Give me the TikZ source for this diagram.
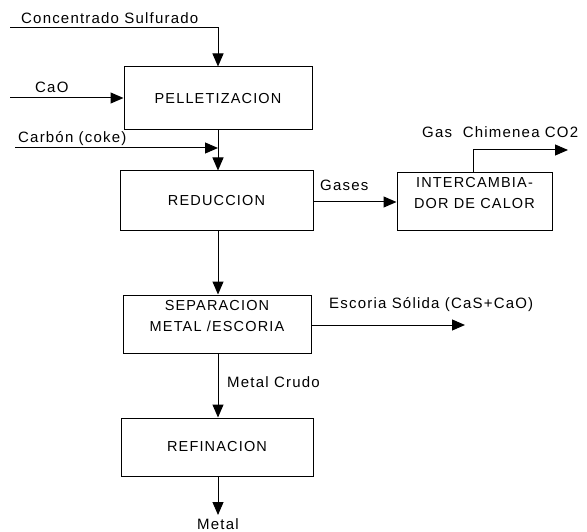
\documentclass[tikz,border=0pt]{standalone}
\usepackage{fontspec}
\setmainfont{Liberation Sans}[LetterSpace=8]
\usetikzlibrary{arrows.meta}
\tikzset{
  box/.style={draw, line width=1pt, inner sep=0pt, align=center, font=\fontsize{14.5}{21}\selectfont},
  lbl/.style={inner sep=0pt, anchor=west, font=\fontsize{15}{17}\selectfont},
  flow/.style={line width=1pt, -{Triangle[length=13pt,width=11pt]}},
  plain/.style={line width=1pt}
}
\begin{document}
\begin{tikzpicture}[x=1pt,y=-1pt]
\useasboundingbox (0,0) rectangle (587,532);
% boxes
\node[box, minimum width=188pt, minimum height=63pt] (pel) at (218,98.5) {PELLETIZACION};
\node[box, minimum width=193pt, minimum height=60pt] (red) at (216.5,201) {REDUCCION};
\node[box, minimum width=155pt, minimum height=58pt] (int) at (474.5,202) {};
\node[box, draw=none] (intt) at (474.5,193.5) {INTERCAMBIA-\\DOR DE CALOR};
\node[box, minimum width=188pt, minimum height=58pt] (sep) at (217,324) {};
\node[box, draw=none] (sept) at (217,316.5) {SEPARACION\\METAL /ESCORIA};
\node[box, minimum width=192pt, minimum height=58pt] (ref) at (217,447) {REFINACION};
% labels
\node[lbl] (lconc) at (21,18) {Concentrado Sulfurado};
\node[lbl] (lcao) at (35,87.5) {CaO};
\node[lbl] (lcarb) at (18,138.5) {Carbón (coke)};
\node[lbl] (lgas) at (320,185) {Gases};
\node[lbl] (lchim) at (422,132) {Gas\ \ Chimenea CO2};
\node[lbl] (lesc) at (329,305) {Escoria Sólida (CaS+CaO)};
\node[lbl] (lcru) at (227,382.5) {Metal Crudo};
\node[lbl] (lmet) at (197,524.5) {Metal};
% coordinates
\coordinate (c0) at (10,28);
\coordinate (c1) at (218,28);
\coordinate (cao0) at (10,98);
\coordinate (carb0) at (15,148);
\coordinate (carb1) at (218,148);
\coordinate (chim1) at (473,150);
\coordinate (chim2) at (568,150);
\coordinate (esc1) at (465,325);
\coordinate (met1) at (218,515);
% connectors
\draw[flow] (c0) -- (c1) -- (pel.north -| c1);
\draw[flow] (cao0) -- (pel.west |- cao0);
\draw[flow] (carb0) -- (carb1);
\draw[flow] (pel.south -| c1) -- (red.north -| c1);
\draw[flow] (red.east |- 0,202) -- (int.west |- 0,202);
\draw[flow] (int.north -| chim1) -- (chim1) -- (chim2);
\draw[flow] (red.south -| c1) -- (sep.north -| c1);
\draw[flow] (sep.east |- esc1) -- (esc1);
\draw[flow] (sep.south -| c1) -- (ref.north -| c1);
\draw[flow] (ref.south -| c1) -- (met1);
\end{tikzpicture}
\end{document}
